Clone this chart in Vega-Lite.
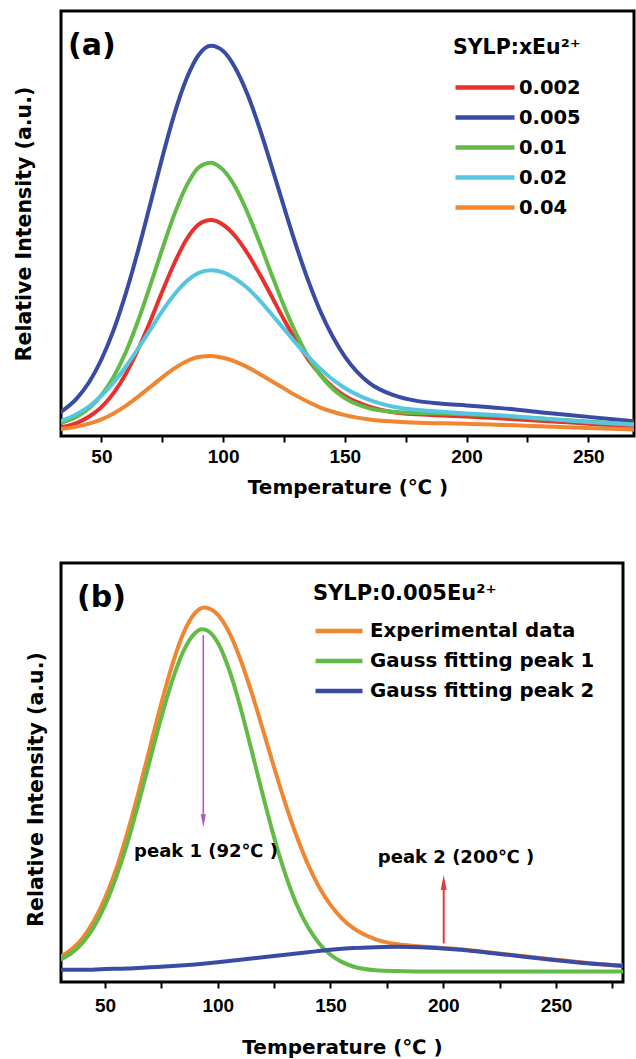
{
"$schema": "https://vega.github.io/schema/vega-lite/v6.json",
"background": "white",
"padding": {"left": 12, "top": 9, "right": 0, "bottom": 0},
"bounds": "flush",
"spacing": 127,
"config": {
  "view": {"stroke": "black", "strokeWidth": 3},
  "font": "DejaVu Sans",
  "axis": {"grid": false, "domain": false, "labelColor": "black", "titleColor": "black", "titleFont": "DejaVu Sans", "titleFontWeight": "bold", "titleFontSize": 20, "labelFont": "Liberation Sans", "labelFontWeight": "bold", "labelFontSize": 19, "tickColor": "black", "tickWidth": 2, "tickSize": 6, "labelOverlap": false},
  "legend": {"orient": "none", "symbolType": "stroke", "symbolStrokeWidth": 4.5, "clipHeight": 30, "rowPadding": 0, "padding": 0, "labelFont": "DejaVu Sans", "labelFontWeight": "bold", "labelColor": "black", "titleFont": "DejaVu Sans", "titleFontWeight": "bold", "titleColor": "black", "labelLimit": 400, "titleLimit": 400}
},
"resolve": {"scale": {"x": "independent", "y": "independent", "color": "independent"}, "legend": {"color": "independent"}},
"vconcat": [
{
  "width": 573, "height": 425,
  "layer": [
  {
    "data": {"values": [
{"T":33,"I":0.020,"x":"0.002"},{"T":40,"I":0.031,"x":"0.002"},{"T":45,"I":0.046,"x":"0.002"},{"T":50,"I":0.068,"x":"0.002"},{"T":55,"I":0.101,"x":"0.002"},{"T":60,"I":0.146,"x":"0.002"},{"T":65,"I":0.203,"x":"0.002"},{"T":70,"I":0.269,"x":"0.002"},{"T":75,"I":0.340,"x":"0.002"},{"T":80,"I":0.407,"x":"0.002"},{"T":85,"I":0.463,"x":"0.002"},{"T":90,"I":0.498,"x":"0.002"},{"T":95,"I":0.508,"x":"0.002"},{"T":100,"I":0.497,"x":"0.002"},{"T":105,"I":0.470,"x":"0.002"},{"T":110,"I":0.430,"x":"0.002"},{"T":115,"I":0.381,"x":"0.002"},{"T":120,"I":0.328,"x":"0.002"},{"T":125,"I":0.274,"x":"0.002"},{"T":130,"I":0.224,"x":"0.002"},{"T":135,"I":0.180,"x":"0.002"},{"T":140,"I":0.144,"x":"0.002"},{"T":145,"I":0.115,"x":"0.002"},{"T":150,"I":0.094,"x":"0.002"},{"T":160,"I":0.069,"x":"0.002"},{"T":170,"I":0.056,"x":"0.002"},{"T":180,"I":0.051,"x":"0.002"},{"T":190,"I":0.048,"x":"0.002"},{"T":200,"I":0.046,"x":"0.002"},{"T":215,"I":0.041,"x":"0.002"},{"T":230,"I":0.036,"x":"0.002"},{"T":250,"I":0.029,"x":"0.002"},{"T":270,"I":0.022,"x":"0.002"},
{"T":33,"I":0.055,"x":"0.005"},{"T":40,"I":0.089,"x":"0.005"},{"T":45,"I":0.127,"x":"0.005"},{"T":50,"I":0.180,"x":"0.005"},{"T":55,"I":0.249,"x":"0.005"},{"T":60,"I":0.335,"x":"0.005"},{"T":65,"I":0.435,"x":"0.005"},{"T":70,"I":0.544,"x":"0.005"},{"T":75,"I":0.655,"x":"0.005"},{"T":80,"I":0.758,"x":"0.005"},{"T":85,"I":0.841,"x":"0.005"},{"T":90,"I":0.897,"x":"0.005"},{"T":95,"I":0.918,"x":"0.005"},{"T":100,"I":0.906,"x":"0.005"},{"T":105,"I":0.866,"x":"0.005"},{"T":110,"I":0.804,"x":"0.005"},{"T":115,"I":0.724,"x":"0.005"},{"T":120,"I":0.633,"x":"0.005"},{"T":125,"I":0.539,"x":"0.005"},{"T":130,"I":0.448,"x":"0.005"},{"T":135,"I":0.365,"x":"0.005"},{"T":140,"I":0.293,"x":"0.005"},{"T":145,"I":0.234,"x":"0.005"},{"T":150,"I":0.187,"x":"0.005"},{"T":160,"I":0.125,"x":"0.005"},{"T":170,"I":0.096,"x":"0.005"},{"T":180,"I":0.082,"x":"0.005"},{"T":190,"I":0.076,"x":"0.005"},{"T":200,"I":0.072,"x":"0.005"},{"T":215,"I":0.065,"x":"0.005"},{"T":230,"I":0.056,"x":"0.005"},{"T":250,"I":0.045,"x":"0.005"},{"T":270,"I":0.034,"x":"0.005"},
{"T":33,"I":0.030,"x":"0.01"},{"T":40,"I":0.046,"x":"0.01"},{"T":45,"I":0.066,"x":"0.01"},{"T":50,"I":0.096,"x":"0.01"},{"T":55,"I":0.139,"x":"0.01"},{"T":60,"I":0.197,"x":"0.01"},{"T":65,"I":0.270,"x":"0.01"},{"T":70,"I":0.353,"x":"0.01"},{"T":75,"I":0.440,"x":"0.01"},{"T":80,"I":0.522,"x":"0.01"},{"T":85,"I":0.589,"x":"0.01"},{"T":90,"I":0.632,"x":"0.01"},{"T":95,"I":0.643,"x":"0.01"},{"T":100,"I":0.626,"x":"0.01"},{"T":105,"I":0.586,"x":"0.01"},{"T":110,"I":0.526,"x":"0.01"},{"T":115,"I":0.455,"x":"0.01"},{"T":120,"I":0.379,"x":"0.01"},{"T":125,"I":0.306,"x":"0.01"},{"T":130,"I":0.241,"x":"0.01"},{"T":135,"I":0.186,"x":"0.01"},{"T":140,"I":0.143,"x":"0.01"},{"T":145,"I":0.111,"x":"0.01"},{"T":150,"I":0.089,"x":"0.01"},{"T":160,"I":0.065,"x":"0.01"},{"T":170,"I":0.057,"x":"0.01"},{"T":180,"I":0.054,"x":"0.01"},{"T":190,"I":0.053,"x":"0.01"},{"T":200,"I":0.051,"x":"0.01"},{"T":215,"I":0.047,"x":"0.01"},{"T":230,"I":0.041,"x":"0.01"},{"T":250,"I":0.034,"x":"0.01"},{"T":270,"I":0.027,"x":"0.01"},
{"T":33,"I":0.035,"x":"0.02"},{"T":40,"I":0.052,"x":"0.02"},{"T":45,"I":0.070,"x":"0.02"},{"T":50,"I":0.095,"x":"0.02"},{"T":55,"I":0.126,"x":"0.02"},{"T":60,"I":0.163,"x":"0.02"},{"T":65,"I":0.205,"x":"0.02"},{"T":70,"I":0.249,"x":"0.02"},{"T":75,"I":0.294,"x":"0.02"},{"T":80,"I":0.333,"x":"0.02"},{"T":85,"I":0.364,"x":"0.02"},{"T":90,"I":0.384,"x":"0.02"},{"T":95,"I":0.390,"x":"0.02"},{"T":100,"I":0.385,"x":"0.02"},{"T":105,"I":0.370,"x":"0.02"},{"T":110,"I":0.348,"x":"0.02"},{"T":115,"I":0.319,"x":"0.02"},{"T":120,"I":0.286,"x":"0.02"},{"T":125,"I":0.252,"x":"0.02"},{"T":130,"I":0.218,"x":"0.02"},{"T":135,"I":0.186,"x":"0.02"},{"T":140,"I":0.158,"x":"0.02"},{"T":145,"I":0.133,"x":"0.02"},{"T":150,"I":0.113,"x":"0.02"},{"T":160,"I":0.085,"x":"0.02"},{"T":170,"I":0.069,"x":"0.02"},{"T":180,"I":0.061,"x":"0.02"},{"T":190,"I":0.057,"x":"0.02"},{"T":200,"I":0.053,"x":"0.02"},{"T":215,"I":0.048,"x":"0.02"},{"T":230,"I":0.042,"x":"0.02"},{"T":250,"I":0.033,"x":"0.02"},{"T":270,"I":0.026,"x":"0.02"},
{"T":33,"I":0.016,"x":"0.04"},{"T":40,"I":0.022,"x":"0.04"},{"T":45,"I":0.029,"x":"0.04"},{"T":50,"I":0.039,"x":"0.04"},{"T":55,"I":0.053,"x":"0.04"},{"T":60,"I":0.071,"x":"0.04"},{"T":65,"I":0.092,"x":"0.04"},{"T":70,"I":0.115,"x":"0.04"},{"T":75,"I":0.138,"x":"0.04"},{"T":80,"I":0.159,"x":"0.04"},{"T":85,"I":0.176,"x":"0.04"},{"T":90,"I":0.186,"x":"0.04"},{"T":95,"I":0.188,"x":"0.04"},{"T":100,"I":0.184,"x":"0.04"},{"T":105,"I":0.175,"x":"0.04"},{"T":110,"I":0.162,"x":"0.04"},{"T":115,"I":0.146,"x":"0.04"},{"T":120,"I":0.129,"x":"0.04"},{"T":125,"I":0.112,"x":"0.04"},{"T":130,"I":0.095,"x":"0.04"},{"T":135,"I":0.080,"x":"0.04"},{"T":140,"I":0.067,"x":"0.04"},{"T":145,"I":0.057,"x":"0.04"},{"T":150,"I":0.049,"x":"0.04"},{"T":160,"I":0.039,"x":"0.04"},{"T":170,"I":0.034,"x":"0.04"},{"T":180,"I":0.031,"x":"0.04"},{"T":190,"I":0.030,"x":"0.04"},{"T":200,"I":0.029,"x":"0.04"},{"T":215,"I":0.026,"x":"0.04"},{"T":230,"I":0.023,"x":"0.04"},{"T":250,"I":0.019,"x":"0.04"},{"T":270,"I":0.015,"x":"0.04"}
    ]},
    "mark": {"type": "line", "interpolate": "monotone", "strokeWidth": 4, "clip": true},
    "encoding": {
      "x": {"field": "T", "type": "quantitative", "title": "Temperature (℃ )",
        "scale": {"domain": [33.4, 268.8], "nice": false, "zero": false},
        "axis": {"values": [50,75,100,125,150,175,200,225,250], "labelExpr": "datum.value % 50 === 0 ? datum.label : ''", "labelPadding": 5, "titlePadding": 11}},
      "y": {"field": "I", "type": "quantitative", "title": "Relative Intensity (a.u.)",
        "scale": {"domain": [0, 1], "nice": false},
        "axis": {"labels": false, "ticks": false, "titlePadding": 27, "titleFontSize": 20.5}},
      "color": {"field": "x", "type": "nominal", "title": "SYLP:xEu²⁺",
        "scale": {"domain": ["0.002","0.005","0.01","0.02","0.04"], "range": ["#e8302c","#3a4ba3","#61bb46","#55c6e0","#f0862f"]},
        "legend": {"legendX": 392, "legendY": 27, "symbolSize": 3481, "labelOffset": 2, "labelFontSize": 19.5, "titleFontSize": 20.5, "titlePadding": 14}}
    }
  },
  {
    "data": {"values": [{"T": 36.3, "I": 0.896, "label": "(a)"}]},
    "mark": {"type": "text", "align": "left", "baseline": "alphabetic", "font": "DejaVu Sans", "fontWeight": "bold", "fontSize": 30, "color": "black"},
    "encoding": {"x": {"field": "T", "type": "quantitative"}, "y": {"field": "I", "type": "quantitative"}, "text": {"field": "label"}}
  }
  ]
},
{
  "width": 562, "height": 419,
  "layer": [
  {
    "data": {"values": [
{"T":30,"I":0.059,"s":"Experimental data"},{"T":40,"I":0.104,"s":"Experimental data"},{"T":45,"I":0.145,"s":"Experimental data"},{"T":50,"I":0.200,"s":"Experimental data"},{"T":55,"I":0.270,"s":"Experimental data"},{"T":60,"I":0.357,"s":"Experimental data"},{"T":65,"I":0.455,"s":"Experimental data"},{"T":70,"I":0.561,"s":"Experimental data"},{"T":75,"I":0.665,"s":"Experimental data"},{"T":80,"I":0.760,"s":"Experimental data"},{"T":85,"I":0.835,"s":"Experimental data"},{"T":90,"I":0.881,"s":"Experimental data"},{"T":94,"I":0.894,"s":"Experimental data"},{"T":100,"I":0.877,"s":"Experimental data"},{"T":105,"I":0.835,"s":"Experimental data"},{"T":110,"I":0.771,"s":"Experimental data"},{"T":115,"I":0.691,"s":"Experimental data"},{"T":120,"I":0.603,"s":"Experimental data"},{"T":125,"I":0.512,"s":"Experimental data"},{"T":130,"I":0.426,"s":"Experimental data"},{"T":135,"I":0.348,"s":"Experimental data"},{"T":140,"I":0.281,"s":"Experimental data"},{"T":145,"I":0.226,"s":"Experimental data"},{"T":150,"I":0.184,"s":"Experimental data"},{"T":155,"I":0.152,"s":"Experimental data"},{"T":160,"I":0.129,"s":"Experimental data"},{"T":170,"I":0.102,"s":"Experimental data"},{"T":180,"I":0.090,"s":"Experimental data"},{"T":190,"I":0.085,"s":"Experimental data"},{"T":200,"I":0.081,"s":"Experimental data"},{"T":210,"I":0.077,"s":"Experimental data"},{"T":220,"I":0.071,"s":"Experimental data"},{"T":235,"I":0.062,"s":"Experimental data"},{"T":250,"I":0.053,"s":"Experimental data"},{"T":265,"I":0.045,"s":"Experimental data"},{"T":280,"I":0.039,"s":"Experimental data"},
{"T":30,"I":0.053,"s":"Gauss fitting peak 1"},{"T":40,"I":0.093,"s":"Gauss fitting peak 1"},{"T":45,"I":0.131,"s":"Gauss fitting peak 1"},{"T":50,"I":0.183,"s":"Gauss fitting peak 1"},{"T":55,"I":0.251,"s":"Gauss fitting peak 1"},{"T":60,"I":0.333,"s":"Gauss fitting peak 1"},{"T":65,"I":0.429,"s":"Gauss fitting peak 1"},{"T":70,"I":0.531,"s":"Gauss fitting peak 1"},{"T":75,"I":0.632,"s":"Gauss fitting peak 1"},{"T":80,"I":0.722,"s":"Gauss fitting peak 1"},{"T":85,"I":0.792,"s":"Gauss fitting peak 1"},{"T":90,"I":0.833,"s":"Gauss fitting peak 1"},{"T":93,"I":0.842,"s":"Gauss fitting peak 1"},{"T":95,"I":0.840,"s":"Gauss fitting peak 1"},{"T":100,"I":0.810,"s":"Gauss fitting peak 1"},{"T":105,"I":0.746,"s":"Gauss fitting peak 1"},{"T":110,"I":0.657,"s":"Gauss fitting peak 1"},{"T":115,"I":0.553,"s":"Gauss fitting peak 1"},{"T":120,"I":0.446,"s":"Gauss fitting peak 1"},{"T":125,"I":0.345,"s":"Gauss fitting peak 1"},{"T":130,"I":0.257,"s":"Gauss fitting peak 1"},{"T":135,"I":0.185,"s":"Gauss fitting peak 1"},{"T":140,"I":0.131,"s":"Gauss fitting peak 1"},{"T":145,"I":0.092,"s":"Gauss fitting peak 1"},{"T":150,"I":0.065,"s":"Gauss fitting peak 1"},{"T":155,"I":0.048,"s":"Gauss fitting peak 1"},{"T":160,"I":0.037,"s":"Gauss fitting peak 1"},{"T":170,"I":0.028,"s":"Gauss fitting peak 1"},{"T":180,"I":0.026,"s":"Gauss fitting peak 1"},{"T":190,"I":0.025,"s":"Gauss fitting peak 1"},{"T":220,"I":0.025,"s":"Gauss fitting peak 1"},{"T":250,"I":0.025,"s":"Gauss fitting peak 1"},{"T":280,"I":0.025,"s":"Gauss fitting peak 1"},
{"T":30,"I":0.029,"s":"Gauss fitting peak 2"},{"T":40,"I":0.029,"s":"Gauss fitting peak 2"},{"T":50,"I":0.031,"s":"Gauss fitting peak 2"},{"T":60,"I":0.032,"s":"Gauss fitting peak 2"},{"T":70,"I":0.035,"s":"Gauss fitting peak 2"},{"T":80,"I":0.038,"s":"Gauss fitting peak 2"},{"T":90,"I":0.042,"s":"Gauss fitting peak 2"},{"T":100,"I":0.047,"s":"Gauss fitting peak 2"},{"T":110,"I":0.053,"s":"Gauss fitting peak 2"},{"T":120,"I":0.059,"s":"Gauss fitting peak 2"},{"T":130,"I":0.065,"s":"Gauss fitting peak 2"},{"T":140,"I":0.071,"s":"Gauss fitting peak 2"},{"T":150,"I":0.077,"s":"Gauss fitting peak 2"},{"T":160,"I":0.081,"s":"Gauss fitting peak 2"},{"T":170,"I":0.083,"s":"Gauss fitting peak 2"},{"T":180,"I":0.084,"s":"Gauss fitting peak 2"},{"T":190,"I":0.083,"s":"Gauss fitting peak 2"},{"T":200,"I":0.080,"s":"Gauss fitting peak 2"},{"T":210,"I":0.076,"s":"Gauss fitting peak 2"},{"T":220,"I":0.070,"s":"Gauss fitting peak 2"},{"T":235,"I":0.061,"s":"Gauss fitting peak 2"},{"T":250,"I":0.052,"s":"Gauss fitting peak 2"},{"T":265,"I":0.044,"s":"Gauss fitting peak 2"},{"T":280,"I":0.038,"s":"Gauss fitting peak 2"}
    ]},
    "mark": {"type": "line", "interpolate": "monotone", "strokeWidth": 4, "clip": true},
    "encoding": {
      "x": {"field": "T", "type": "quantitative", "title": "Temperature (℃ )",
        "scale": {"domain": [30.5, 279.7], "nice": false, "zero": false},
        "axis": {"values": [50,75,100,125,150,175,200,225,250,275], "labelExpr": "datum.value % 50 === 0 ? datum.label : ''", "labelPadding": 8, "titlePadding": 22}},
      "y": {"field": "I", "type": "quantitative", "title": "Relative Intensity (a.u.)",
        "scale": {"domain": [0, 1], "nice": false},
        "axis": {"labels": false, "ticks": false, "titlePadding": 15, "titleY": 226, "titleFontSize": 20.5}},
      "color": {"field": "s", "type": "nominal", "title": "SYLP:0.005Eu²⁺",
        "scale": {"domain": ["Experimental data","Gauss fitting peak 1","Gauss fitting peak 2"], "range": ["#f0862f","#61bb46","#3a4ba3"]},
        "legend": {"legendX": 252, "legendY": 20, "symbolSize": 2209, "labelOffset": 5, "labelFontSize": 19.8, "titleFontSize": 21, "titlePadding": 12}}
    }
  },
  {
    "data": {"values": [{"T": 93.6, "I": 0.828, "I2": 0.39}]},
    "mark": {"type": "rule", "color": "#ab5cbd", "strokeWidth": 1.6},
    "encoding": {"x": {"field": "T", "type": "quantitative"}, "y": {"field": "I", "type": "quantitative"}, "y2": {"field": "I2"}}
  },
  {
    "data": {"values": [{"T": 93.6, "I": 0.385}]},
    "mark": {"type": "point", "shape": "M-0.4,-1L0.4,-1L0,1Z", "filled": true, "size": 169, "color": "#ab5cbd", "opacity": 1},
    "encoding": {"x": {"field": "T", "type": "quantitative"}, "y": {"field": "I", "type": "quantitative"}}
  },
  {
    "data": {"values": [{"T": 200.2, "I": 0.092, "I2": 0.24}]},
    "mark": {"type": "rule", "color": "#e8393a", "strokeWidth": 2},
    "encoding": {"x": {"field": "T", "type": "quantitative"}, "y": {"field": "I", "type": "quantitative"}, "y2": {"field": "I2"}}
  },
  {
    "data": {"values": [{"T": 200.2, "I": 0.2375}]},
    "mark": {"type": "point", "shape": "M-0.4,1L0.4,1L0,-1Z", "filled": true, "size": 225, "color": "#e8393a", "opacity": 1},
    "encoding": {"x": {"field": "T", "type": "quantitative"}, "y": {"field": "I", "type": "quantitative"}}
  },
  {
    "data": {"values": [{"T": 37.6, "I": 0.895, "label": "(b)"}]},
    "mark": {"type": "text", "align": "left", "baseline": "alphabetic", "font": "DejaVu Sans", "fontWeight": "bold", "fontSize": 30, "color": "black"},
    "encoding": {"x": {"field": "T", "type": "quantitative"}, "y": {"field": "I", "type": "quantitative"}, "text": {"field": "label"}}
  },
  {
    "data": {"values": [{"T": 62.9, "I": 0.31, "label": "peak 1 (92℃ )"}, {"T": 171.0, "I": 0.296, "label": "peak 2 (200℃ )"}]},
    "mark": {"type": "text", "align": "left", "baseline": "middle", "font": "DejaVu Sans", "fontWeight": "bold", "fontSize": 18, "color": "black"},
    "encoding": {"x": {"field": "T", "type": "quantitative"}, "y": {"field": "I", "type": "quantitative"}, "text": {"field": "label"}}
  }
  ]
}
]
}
